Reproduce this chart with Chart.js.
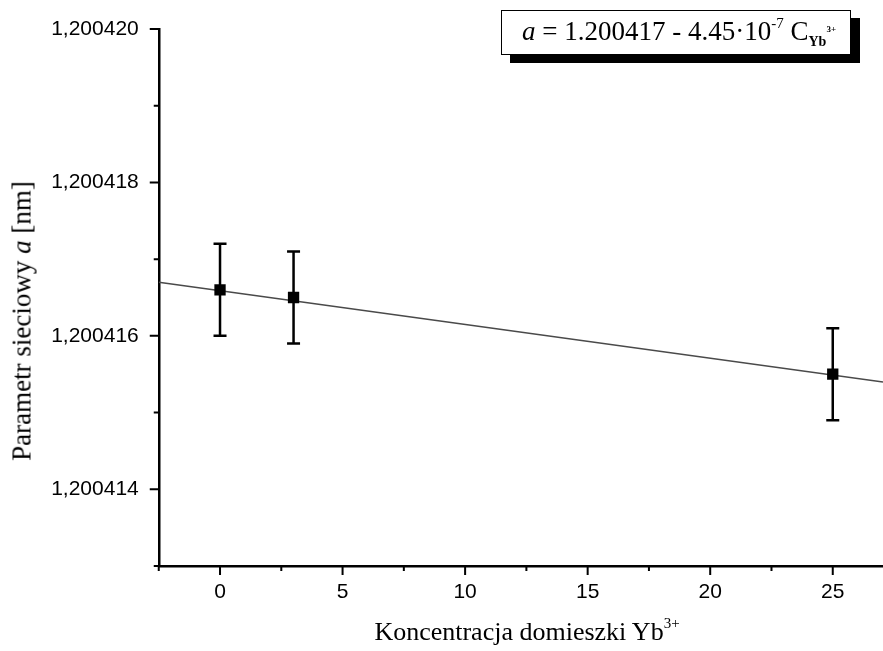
<!DOCTYPE html>
<html>
<head>
<meta charset="utf-8">
<script src="https://cdn.jsdelivr.net/npm/chart.js@4"></script>
<style>
  html, body { margin: 0; padding: 0; background: #fff; overflow: hidden; }
  #wrap { position: relative; width: 883px; height: 651px; overflow: hidden; background: #fff; }
  #c { position: absolute; left: 0; top: 0; }
  .serif { font-family: "Liberation Serif", "Times New Roman", serif; color: #000; }
  #ytitle { position: absolute; left: 22px; top: 321px; transform: translate(-50%, -50%) rotate(-90deg); white-space: nowrap; font-size: 27px; line-height: 1; }
  #xtitle { position: absolute; left: 527px; top: 632px; transform: translate(-50%, -50%); white-space: nowrap; font-size: 26px; line-height: 1; }
  #xtitle sup { font-size: 15px; vertical-align: 0; position: relative; top: -12px; }
  #eq { position: absolute; left: 501px; top: 10px; width: 348px; height: 43px; border: 1.5px solid #000; background: #fff; box-shadow: 9px 8px 0 #000; }
  #eqtext { position: absolute; left: 20px; top: 7px; white-space: nowrap; font-size: 27px; line-height: 1; }
  #eqtext .sup { font-size: 15px; position: relative; top: -12px; }
  #eqtext .sub { font-size: 14px; font-weight: bold; position: relative; top: 6px; }
  #eqtext .subsup { font-size: 9px; font-weight: bold; position: relative; top: -8px; }
</style>
</head>
<body>
<div id="wrap">
  <canvas id="c" width="891" height="651"></canvas>
  <div id="ytitle" class="serif">Parametr sieciowy <i>a</i> [nm]</div>
  <div id="xtitle" class="serif">Koncentracja domieszki Yb<sup>3+</sup></div>
  <div id="eq"><div id="eqtext" class="serif"><i>a</i> = 1.200417 - 4.45·10<span class="sup">-7</span> C<span class="sub">Yb</span><span class="subsup">3+</span></div></div>
</div>
<script>
// ---- data ----
const concentrations = [0, 3, 25];
const latticeParam = [1.2004166, 1.2004165, 1.2004155];
const latticeErr = [0.0000006, 0.0000006, 0.0000006];
const fitX = [-2.5, 27.05];
const fitY = [1.2004167, 1.2004154];
const xMajorTicks = [0, 5, 10, 15, 20, 25];
const xMinorTicks = [-2.5, 2.5, 7.5, 12.5, 17.5, 22.5];
const yMajorTicks = [1.200414, 1.200416, 1.200418, 1.200420];
const yMinorTicks = [1.200413, 1.200415, 1.200417, 1.200419];

const X_MIN = -2.5, X_MAX = 27.05, Y_MIN = 1.200413, Y_MAX = 1.200420;

function isMajor(list, v) {
  return list.some(t => Math.abs(t - v) < 1e-9);
}

const errorBars = {
  id: 'errorBars',
  beforeDatasetsDraw(chart) {
    const ctx = chart.ctx, xs = chart.scales.x, ys = chart.scales.y;
    ctx.save();
    ctx.strokeStyle = '#000';
    ctx.lineWidth = 2.5;
    concentrations.forEach((c, i) => {
      const px = xs.getPixelForValue(c);
      const top = ys.getPixelForValue(latticeParam[i] + latticeErr[i]);
      const bot = ys.getPixelForValue(latticeParam[i] - latticeErr[i]);
      ctx.beginPath();
      ctx.moveTo(px, top); ctx.lineTo(px, bot);
      ctx.moveTo(px - 6.5, top); ctx.lineTo(px + 6.5, top);
      ctx.moveTo(px - 6.5, bot); ctx.lineTo(px + 6.5, bot);
      ctx.stroke();
    });
    ctx.restore();
  }
};

const tickMarks = {
  id: 'tickMarks',
  afterDraw(chart) {
    const ctx = chart.ctx, xs = chart.scales.x, ys = chart.scales.y;
    const area = chart.chartArea;
    ctx.save();
    ctx.strokeStyle = '#000';
    ctx.lineWidth = 2;
    ctx.beginPath();
    xs.ticks.forEach(t => {
      const px = xs.getPixelForValue(t.value);
      const len = isMajor(xMajorTicks, t.value) ? 9 : 5;
      ctx.moveTo(px, area.bottom); ctx.lineTo(px, area.bottom + len);
    });
    ys.ticks.forEach(t => {
      const py = ys.getPixelForValue(t.value);
      const len = isMajor(yMajorTicks, t.value) ? 9 : 5;
      ctx.moveTo(area.left, py); ctx.lineTo(area.left - len, py);
    });
    ctx.stroke();
    ctx.restore();
  }
};

new Chart(document.getElementById('c'), {
  type: 'scatter',
  data: {
    datasets: [
      {
        label: 'fit',
        type: 'line',
        data: fitX.map((x, i) => ({ x: x, y: fitY[i] })),
        borderColor: '#4a4a4a',
        borderWidth: 1.5,
        pointRadius: 0,
        fill: false,
        order: 2
      },
      {
        label: 'a',
        data: concentrations.map((x, i) => ({ x: x, y: latticeParam[i] })),
        pointStyle: 'rect',
        pointRadius: 8,
        backgroundColor: '#000',
        borderColor: '#000',
        borderWidth: 0,
        order: 1
      }
    ]
  },
  options: {
    responsive: false,
    animation: false,
    devicePixelRatio: 1,
    layout: { padding: { top: 29, right: 0, left: 0, bottom: 0 } },
    plugins: { legend: { display: false }, tooltip: { enabled: false } },
    scales: {
      x: {
        type: 'linear',
        min: X_MIN, max: X_MAX,
        afterBuildTicks(scale) {
          scale.ticks = xMinorTicks.concat(xMajorTicks).sort((a, b) => a - b).map(v => ({ value: v }));
        },
        afterFit(scale) { scale.height = 85; scale.paddingLeft = 0; scale.paddingRight = 0; },
        grid: { display: false, drawTicks: false },
        border: { display: true, color: '#000', width: 2.5 },
        ticks: {
          autoSkip: false,
          maxRotation: 0,
          padding: 14,
          color: '#000',
          font: { family: 'Liberation Sans', size: 21 },
          callback(v) { return isMajor(xMajorTicks, v) ? String(v) : ''; }
        }
      },
      y: {
        type: 'linear',
        min: Y_MIN, max: Y_MAX,
        afterBuildTicks(scale) {
          scale.ticks = yMinorTicks.concat(yMajorTicks).sort((a, b) => a - b).map(v => ({ value: v }));
        },
        afterFit(scale) { scale.width = 158.75; scale.paddingTop = 0; scale.paddingBottom = 0; },
        grid: { display: false, drawTicks: false },
        border: { display: true, color: '#000', width: 2.5 },
        ticks: {
          autoSkip: false,
          padding: 20,
          color: '#000',
          font: { family: 'Liberation Sans', size: 21 },
          callback(v) { return isMajor(yMajorTicks, v) ? v.toFixed(6).replace('.', ',') : ''; }
        }
      }
    }
  },
  plugins: [errorBars, tickMarks]
});
</script>
</body>
</html>
